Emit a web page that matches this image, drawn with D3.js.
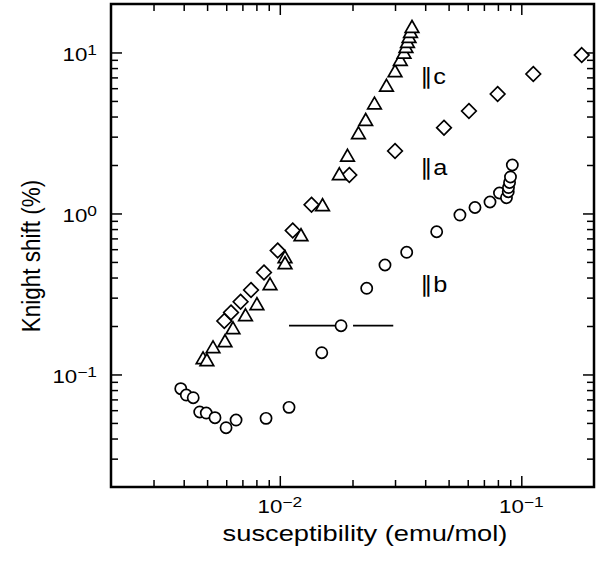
<!DOCTYPE html>
<html>
<head>
<meta charset="utf-8">
<script src="https://cdn.jsdelivr.net/npm/d3@7"></script>
<style>
  html, body { margin: 0; padding: 0; background: #fff; }
  text { font-family: "Liberation Sans", Arial, sans-serif; fill: #000; }
</style>
</head>
<body>
<svg id="chart" width="605" height="566"></svg>
<script>
// ---- data ----
// ||c : triangles
const cX = [0.00481,0.00499,0.00529,0.00593,0.00640,0.00721,0.00804,0.00911,0.01051,0.01051,0.01224,0.01503,0.01764,0.01907,0.02117,0.02268,0.02466,0.02765,0.0300,0.03155,0.03268,0.0333,0.03378,0.03428,0.03477,0.03527];
const cY = [0.1265,0.123,0.148,0.1614,0.1943,0.234,0.274,0.3646,0.5366,0.4925,0.735,1.129,1.758,2.291,3.16,3.823,4.834,6.234,7.672,9.02,10.0,10.86,11.66,12.53,13.46,14.45];
// ||a : diamonds
const aX = [0.00589,0.00628,0.00688,0.0076,0.0086,0.0098,0.01131,0.01353,0.0194,0.0300,0.04785,0.0607,0.0798,0.1121,0.1779];
const aY = [0.2148,0.2426,0.283,0.3346,0.43,0.5886,0.7838,1.133,1.734,2.443,3.41,4.328,5.52,7.35,9.64];
// ||b : circles
const bX = [0.00389,0.0041,0.00438,0.00466,0.00496,0.00539,0.00599,0.00659,0.00877,0.01092,0.01492,0.01793,0.0229,0.02726,0.03353,0.04463,0.0557,0.0643,0.0742,0.0812,0.0868,0.0883,0.0885,0.0894,0.0902,0.0918];
const bY = [0.0816,0.0745,0.0717,0.0585,0.0576,0.0539,0.0467,0.0521,0.0534,0.0625,0.1365,0.2009,0.3429,0.4785,0.574,0.77,0.978,1.089,1.178,1.34,1.253,1.365,1.449,1.557,1.685,2.0];
// horizontal error bar on one ||b point
const errPoint = {x: 0.01793, y: 0.2009, lo: 0.01092, hi: 0.0295};

const xMajor = [0.01, 0.1];
const xMajorExp = ["−2", "−1"];
const xMinor = [0.003,0.004,0.005,0.006,0.007,0.008,0.009,0.02,0.03,0.04,0.05,0.06,0.07,0.08,0.09];
const yMajor = [0.1, 1, 10];
const yMajorExp = ["−1", "0", "1"];
const yMinor = [0.03,0.04,0.05,0.06,0.07,0.08,0.09,0.2,0.3,0.4,0.5,0.6,0.7,0.8,0.9,2,3,4,5,6,7,8,9];

const seriesLabels = [
  {name: "c", x: 0.0382, y: 6.35},
  {name: "a", x: 0.0382, y: 1.73},
  {name: "b", x: 0.0382, y: 0.325}
];

// ---- layout ----
const L = 111, R = 594, T = 4, B = 487;
const SX = 1.24;
const svg = d3.select("#chart");
svg.append("rect").attr("width",605).attr("height",566).attr("fill","#fff");

const x = d3.scaleLog().domain([0.002, 0.2]).range([L, R]);
const y = d3.scaleLog().domain([0.02, 20]).range([B, T]);

// ---- ticks (inward, all four sides) ----
function addAxis(gen, tr, vals, size) {
  const g = svg.append("g").attr("transform", tr)
    .call(gen.tickValues(vals).tickSize(size).tickFormat(""));
  g.select(".domain").remove();
  g.selectAll(".tick line").attr("stroke", "#000").attr("stroke-width", 1.5);
}
addAxis(d3.axisBottom(x), `translate(0,${B})`, xMinor, -7);
addAxis(d3.axisBottom(x), `translate(0,${B})`, xMajor, -11);
addAxis(d3.axisTop(x), `translate(0,${T})`, xMinor, -7);
addAxis(d3.axisTop(x), `translate(0,${T})`, xMajor, -11);
addAxis(d3.axisLeft(y), `translate(${L},0)`, yMinor, -7);
addAxis(d3.axisLeft(y), `translate(${L},0)`, yMajor, -11);
addAxis(d3.axisRight(y), `translate(${R},0)`, yMinor, -7);
addAxis(d3.axisRight(y), `translate(${R},0)`, yMajor, -11);

// frame
svg.append("rect").attr("x", L).attr("y", T).attr("width", R - L).attr("height", B - T)
  .attr("fill", "none").attr("stroke", "#000").attr("stroke-width", 2.5);

// ---- tick labels ----
function powLabel(px, py, anchor, exp) {
  const t = svg.append("text")
    .attr("transform", `translate(${px},${py}) scale(${SX},1)`)
    .attr("text-anchor", anchor).style("font-size", "18px");
  t.append("tspan").text("10");
  t.append("tspan").attr("dy", -6).style("font-size", "14px").text(exp);
}
xMajor.forEach((v, i) => powLabel(x(v), 512.5, "middle", xMajorExp[i]));
yMajor.forEach((v, i) => powLabel(97, y(v) + 9, "end", yMajorExp[i]));

// ---- axis titles ----
svg.append("text")
  .attr("transform", `translate(365,541) scale(${SX},1)`)
  .attr("text-anchor", "middle").style("font-size", "22px")
  .text("susceptibility (emu/mol)");
svg.append("text")
  .attr("transform", `translate(40,256) rotate(-90) scale(1,1.12)`)
  .attr("text-anchor", "middle").style("font-size", "22.5px")
  .text("Knight shift (%)");

// ---- error bar ----
const eg = svg.append("g").attr("stroke", "#000").attr("stroke-width", 1.8);
eg.append("line").attr("x1", x(errPoint.lo)).attr("x2", x(errPoint.x))
  .attr("y1", y(errPoint.y)).attr("y2", y(errPoint.y));
eg.append("line").attr("x1", x(errPoint.x) + 12).attr("x2", x(errPoint.hi))
  .attr("y1", y(errPoint.y)).attr("y2", y(errPoint.y));

// ---- markers ----
const sw = 1.7;
const circ = svg.append("g");
bX.forEach((v, i) => {
  circ.append("circle").attr("cx", x(v)).attr("cy", y(bY[i])).attr("r", 5.6)
    .attr("fill", "#fff").attr("stroke", "#000").attr("stroke-width", sw);
});
const dia = svg.append("g");
aX.forEach((v, i) => {
  dia.append("path").attr("transform", `translate(${x(v)},${y(aY[i])})`)
    .attr("d", "M0,-7.3L7.3,0L0,7.3L-7.3,0Z")
    .attr("fill", "#fff").attr("stroke", "#000").attr("stroke-width", sw);
});
const tri = svg.append("g");
cX.forEach((v, i) => {
  tri.append("path").attr("transform", `translate(${x(v)},${y(cY[i])})`)
    .attr("d", "M0,-6.2L6.8,5.6L-6.8,5.6Z")
    .attr("fill", "#fff").attr("stroke", "#000").attr("stroke-width", sw).attr("stroke-linejoin", "miter");
});

// ---- series labels ----
seriesLabels.forEach(s => {
  const t = svg.append("text")
    .attr("transform", `translate(${x(s.x)},${y(s.y)}) scale(1.15,1)`)
    .style("font-size", "22px");
  t.append("tspan").text("∥");
  t.append("tspan").text(s.name);
});
</script>
</body>
</html>
